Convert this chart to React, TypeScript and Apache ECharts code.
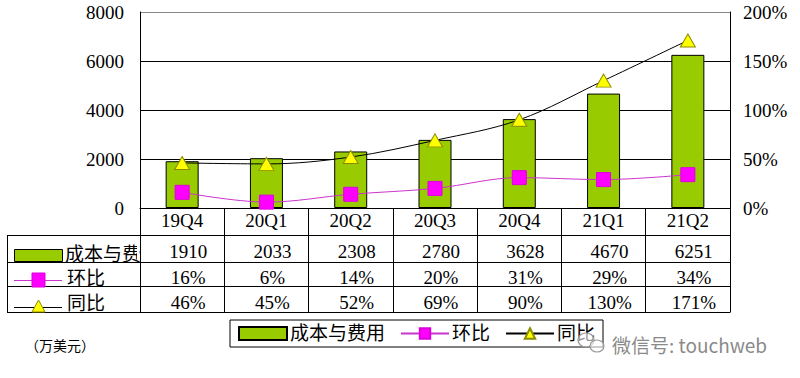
import React, { useEffect, useRef } from 'react';
import * as echarts from 'echarts';

const categories = ['19Q4', '20Q1', '20Q2', '20Q3', '20Q4', '21Q1', '21Q2'];
const costValues = [1910, 2033, 2308, 2780, 3628, 4670, 6251];
const qoqValues = [16, 6, 14, 20, 31, 29, 34];
const yoyValues = [46, 45, 52, 69, 90, 130, 171];
const seriesNames = ['成本与费用', '环比', '同比'];
const rowLabels = ['成本与费', '环比', '同比'];
const unitLabel = '（万美元）';
const watermark = '微信号: touchweb';

const FONT = "'Liberation Serif', 'Noto Sans CJK SC', serif";
const GREEN = '#99CC00';
const MAGENTA = '#FF00FF';
const MAG_LINE = '#CC33CC';
const YELLOW = '#FFFF00';
const OLIVE = '#8C8C00';

const GRID_LEFT = 140;
const GRID_RIGHT_X = 730;
const GRID_TOP = 12;
const GRID_BOTTOM_Y = 208;

export default function App() {
  const ref = useRef<HTMLDivElement>(null);
  useEffect(() => {
    const chart = echarts.init(ref.current!, null, { renderer: 'svg' });
    const tableRowX = (offset: number, data: string[]) => ({
      type: 'category',
      data,
      position: 'bottom',
      offset,
      axisLine: { show: false },
      axisTick: { show: false },
      axisLabel: {
        interval: 0,
        margin: 0,
        color: '#000',
        fontSize: 19,
        fontFamily: FONT,
        padding: [0, 0, 0, 12],
      },
    });
    const hLine = (x1: number, y: number, x2: number) => ({
      type: 'line',
      shape: { x1, y1: y, x2, y2: y },
      style: { stroke: '#000', lineWidth: 1 },
      silent: true,
    });
    const option: any = {
      animation: false,
      backgroundColor: '#fff',
      textStyle: { fontFamily: FONT },
      grid: {
        left: GRID_LEFT,
        right: 800 - GRID_RIGHT_X,
        top: GRID_TOP,
        bottom: 378 - GRID_BOTTOM_Y,
        containLabel: false,
      },
      legend: {
        left: 230,
        top: 320,
        orient: 'horizontal',
        data: [{ name: seriesNames[0], icon: 'rect' }, seriesNames[1], seriesNames[2]],
        borderColor: '#000',
        borderWidth: 1,
        borderRadius: 0,
        backgroundColor: '#fff',
        padding: [4, 8, 4, 8],
        itemWidth: 48,
        itemHeight: 13,
        itemGap: 15,
        textStyle: { fontSize: 19, color: '#000', fontFamily: FONT, padding: [0, 0, 0, -2] },
      },
      xAxis: [
        {
          type: 'category',
          data: categories,
          position: 'bottom',
          axisLine: { show: true, lineStyle: { color: '#000', width: 1 } },
          axisTick: { show: true, interval: 0, length: 104, lineStyle: { color: '#000', width: 1 } },
          axisLabel: { interval: 0, margin: 3, color: '#000', fontSize: 19, fontFamily: FONT },
        },
        tableRowX(34, costValues.map((v) => String(v))),
        tableRowX(60, qoqValues.map((v) => v + '%')),
        tableRowX(85, yoyValues.map((v) => v + '%')),
      ],
      yAxis: [
        {
          type: 'value',
          min: 0,
          max: 8000,
          interval: 2000,
          axisLine: { show: true, lineStyle: { color: '#000', width: 1 } },
          axisTick: { show: false },
          axisLabel: {
            margin: 16,
            color: '#000',
            fontSize: 19,
            fontFamily: FONT,
            formatter: (v: number) => String(v),
          },
          splitLine: {
            show: true,
            lineStyle: { color: ['#000', '#000', '#000', '#000', '#888'], width: 1 },
          },
        },
        {
          type: 'value',
          min: 0,
          max: 200,
          interval: 50,
          position: 'right',
          axisLine: { show: true, lineStyle: { color: '#000', width: 1 } },
          axisTick: { show: false },
          splitLine: { show: false },
          axisLabel: {
            margin: 13,
            color: '#000',
            fontSize: 19,
            fontFamily: FONT,
            formatter: (v: number) => v + '%',
          },
        },
      ],
      series: [
        {
          name: seriesNames[0],
          type: 'bar',
          xAxisIndex: 0,
          yAxisIndex: 0,
          data: costValues,
          barWidth: 33,
          itemStyle: { color: GREEN, borderColor: '#000', borderWidth: 1 },
          z: 2,
        },
        {
          name: seriesNames[1],
          type: 'line',
          xAxisIndex: 0,
          yAxisIndex: 1,
          data: qoqValues,
          smooth: 0.35,
          symbol: 'rect',
          symbolSize: 14,
          lineStyle: { color: MAG_LINE, width: 1 },
          itemStyle: { color: MAGENTA, borderColor: '#DD00DD', borderWidth: 1 },
          z: 3,
        },
        {
          name: seriesNames[2],
          type: 'line',
          xAxisIndex: 0,
          yAxisIndex: 1,
          data: yoyValues,
          smooth: 0.35,
          symbol: 'triangle',
          symbolSize: [15, 13],
          lineStyle: { color: '#000', width: 1 },
          itemStyle: { color: YELLOW, borderColor: OLIVE, borderWidth: 1 },
          z: 4,
        },
      ],
      graphic: [
        hLine(7, 235.5, GRID_RIGHT_X + 0.5),
        hLine(7, 262.5, GRID_RIGHT_X + 0.5),
        hLine(7, 286.5, GRID_RIGHT_X + 0.5),
        hLine(7, 312.5, GRID_RIGHT_X + 0.5),
        {
          type: 'line',
          shape: { x1: 7.5, y1: 235.5, x2: 7.5, y2: 312.5 },
          style: { stroke: '#000', lineWidth: 1 },
          silent: true,
        },
        {
          type: 'rect',
          shape: { x: 14.5, y: 249.5, width: 48, height: 12 },
          style: { fill: GREEN, stroke: '#000', lineWidth: 1 },
        },
        {
          type: 'text',
          x: 65,
          y: 254,
          style: { text: rowLabels[0], fontSize: 19, fontFamily: FONT, fill: '#000', verticalAlign: 'middle' },
        },
        {
          type: 'rect',
          shape: { x: 137, y: 238, width: 2.5, height: 22 },
          style: { fill: '#fff' },
        },
        {
          type: 'line',
          shape: { x1: 14, y1: 280.5, x2: 62, y2: 280.5 },
          style: { stroke: MAG_LINE, lineWidth: 1 },
        },
        {
          type: 'rect',
          shape: { x: 32, y: 273, width: 13, height: 14 },
          style: { fill: MAGENTA, stroke: '#DD00DD', lineWidth: 1 },
        },
        {
          type: 'text',
          x: 67,
          y: 278,
          style: { text: rowLabels[1], fontSize: 19, fontFamily: FONT, fill: '#000', verticalAlign: 'middle' },
        },
        {
          type: 'line',
          shape: { x1: 14, y1: 307.5, x2: 62, y2: 307.5 },
          style: { stroke: '#000', lineWidth: 1 },
        },
        {
          type: 'polygon',
          shape: { points: [[38.5, 300], [32, 312], [45, 312]] },
          style: { fill: YELLOW, stroke: OLIVE, lineWidth: 1 },
        },
        {
          type: 'text',
          x: 67,
          y: 303.5,
          style: { text: rowLabels[2], fontSize: 19, fontFamily: FONT, fill: '#000', verticalAlign: 'middle' },
        },
        {
          type: 'text',
          x: 25,
          y: 345,
          style: { text: unitLabel, fontSize: 14, fontFamily: "'Noto Sans CJK SC', sans-serif", fill: '#000', verticalAlign: 'middle' },
        },
        {
          type: 'ellipse',
          shape: { cx: 586, cy: 340, rx: 8, ry: 7 },
          style: { fill: 'rgba(255,255,255,0.6)', stroke: '#999', lineWidth: 1.2 },
          z: 100,
        },
        {
          type: 'ellipse',
          shape: { cx: 597, cy: 346, rx: 7, ry: 6 },
          style: { fill: 'rgba(255,255,255,0.6)', stroke: '#999', lineWidth: 1.2 },
          z: 100,
        },
        {
          type: 'text',
          x: 612,
          y: 344,
          style: {
            text: watermark,
            fontSize: 19,
            fontFamily: "'Noto Sans CJK SC', 'Noto Sans', sans-serif",
            fill: '#8a8a8a',
            verticalAlign: 'middle',
          },
          z: 100,
        },
      ],
    };
    chart.setOption(option);
    return () => chart.dispose();
  }, []);
  return (
    <div
      ref={ref}
      style={{ position: 'absolute', left: 0, top: 0, width: 800, height: 378, background: '#fff' }}
    />
  );
}
